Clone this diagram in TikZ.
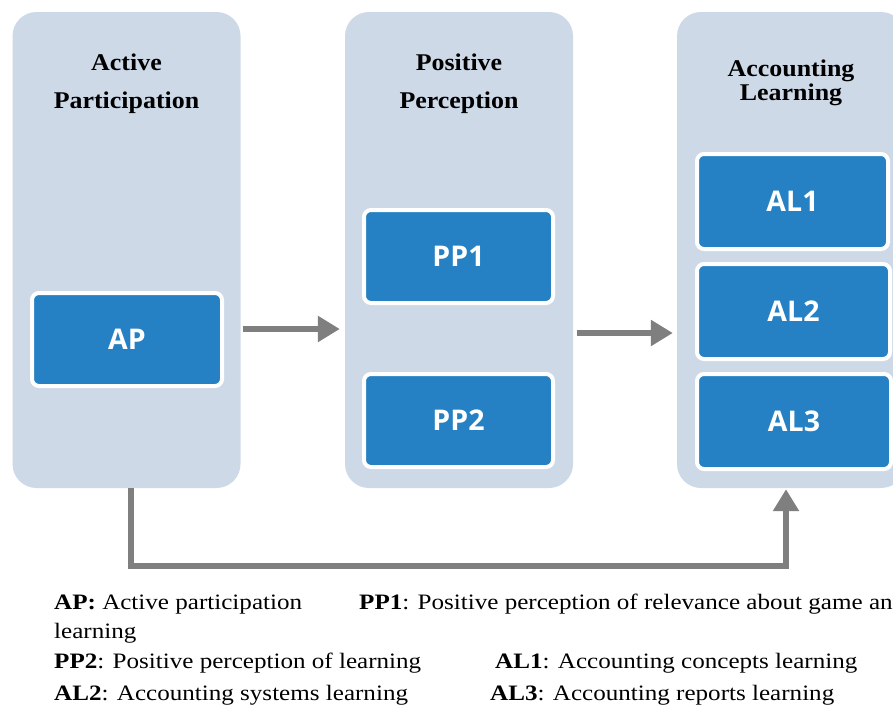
\documentclass[tikz,border=0pt]{standalone}
\usepackage{fontspec}
\setmainfont{Liberation Serif}
\newfontfamily\legfont[FakeStretch=1.14]{Liberation Serif}
\newfontfamily\headfont[FakeStretch=1.08]{Liberation Serif}
\newfontfamily\boxfont{Open Sans}
\usetikzlibrary{arrows.meta,calc}
\definecolor{colfill}{HTML}{CED9E8}
\definecolor{boxblue}{HTML}{2581C3}
\definecolor{arrgray}{HTML}{7F7F7F}
\tikzset{
  column/.style={fill=colfill, draw=none, rounded corners=24pt, minimum width=228pt, minimum height=476pt, inner sep=0pt},
  inbox/.style={fill=boxblue, draw=white, line width=4pt, rounded corners=7pt, text=white, inner sep=0pt,
    font=\boxfont\bfseries\fontsize{28.5}{32}\selectfont},
  head/.style={font=\headfont\bfseries\fontsize{24}{28}\selectfont, anchor=base, inner sep=0pt},
  leg/.style={font=\legfont\fontsize{22}{26}\selectfont, anchor=base west, inner sep=0pt},
  arr/.style={draw=arrgray, line width=6.5pt, -{Triangle[length=22pt,width=25pt]}},
}
\begin{document}
\begin{tikzpicture}[x=1pt,y=-1pt]
\clip (0,0) rectangle (893,704);
\fill[white] (0,0) rectangle (893,704);
% columns
\node[column] (col1) at (126.5,250) {};
\node[column] (col2) at (459,250) {};
\node[column] (col3) at (791,250) {};
% headers
\node[head] (h1a) at (126.5,70) {Active};
\node[head] (h1b) at (126.5,108) {Participation};
\node[head] (h2a) at (459,70) {Positive};
\node[head] (h2b) at (459,108) {Perception};
\node[head] (h3a) at (791,76) {Accounting};
\node[head] (h3b) at (791,100) {Learning};
% inner boxes
\node[inbox, minimum width=190pt, minimum height=93pt] (ap) at (127,339.5) {AP};
\node[inbox, minimum width=189pt, minimum height=93pt] (pp1) at (458.5,256.5) {PP1};
\node[inbox, minimum width=189pt, minimum height=93pt] (pp2) at (458.5,420.5) {PP2};
\node[inbox, minimum width=191pt, minimum height=95pt] (al1) at (792.5,201.5) {AL1};
\node[inbox, minimum width=193pt, minimum height=95pt] (al2) at (793.5,311.5) {AL2};
\node[inbox, minimum width=194pt, minimum height=95pt] (al3) at (794,421.5) {AL3};
% connectors
\coordinate (a1) at (0,329);
\coordinate (a2) at (0,333);
\coordinate (b1) at (131,566);
\coordinate (b2) at (786,566);
\draw[arr, shorten <=2pt, shorten >=5pt] (col1.east |- a1) -- (col2.west |- a1);
\draw[arr, shorten <=4pt, shorten >=4pt] (col2.east |- a2) -- (col3.west |- a2);
\draw[arr, line join=miter, shorten >=1pt] (col1.south -| b1) -- (b1) -- (b2) -- (col3.south -| b2);
% legend
\node[leg] (l1) at (54,609) {\textbf{AP:} Active participation};
\node[leg] (l2) at (359,609) {\textbf{PP1}: Positive perception of relevance about game and};
\node[leg] (l3) at (54,638) {learning};
\node[leg] (l4) at (54,668) {\textbf{PP2}: Positive perception of learning};
\node[leg] (l5) at (495,668) {\textbf{AL1}: Accounting concepts learning};
\node[leg] (l6) at (54,700) {\textbf{AL2}: Accounting systems learning};
\node[leg] (l7) at (490,700) {\textbf{AL3}: Accounting reports learning};
\end{tikzpicture}
\end{document}
